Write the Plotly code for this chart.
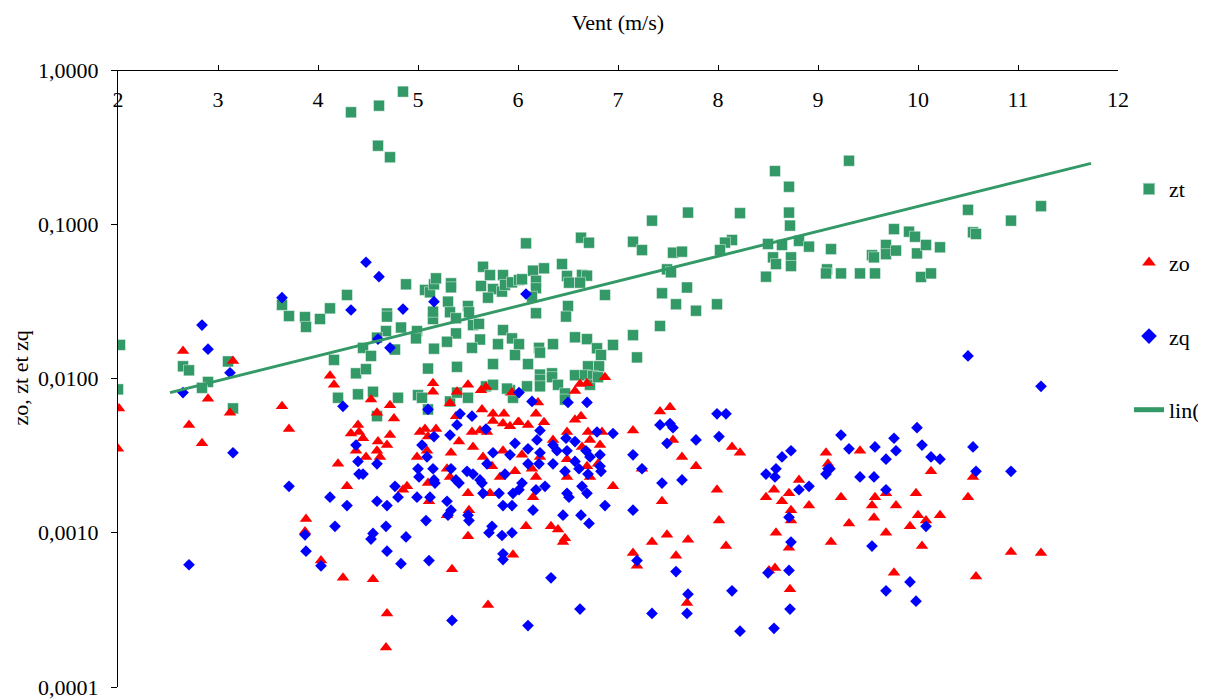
import plotly.graph_objects as go

# ---------------- data ----------------
zt_x = [2.02, 3.64, 3.71, 3.87, 3.88, 4.02, 2.65, 2.71, 3.10, 2.90, 2.00, 2.84, 3.15,
        4.33, 4.61, 4.85, 4.60, 4.72, 4.88, 4.29, 4.12, 4.69, 4.69, 4.68, 4.83, 4.59,
        4.45, 4.53, 4.77, 4.16, 4.38, 4.48, 4.99, 4.98, 5.10, 5.16, 5.15, 5.15, 5.07,
        5.12, 5.16, 5.18, 5.33, 5.33, 5.30, 5.32, 5.38, 5.38, 5.29, 5.39, 5.50, 5.51,
        5.55, 5.61, 5.62, 5.54, 5.75, 5.80, 5.85, 5.94, 5.97, 5.65, 5.72, 5.63, 5.75,
        5.70, 5.85, 5.84, 5.87, 5.94, 6.01, 6.08, 6.63, 6.71, 7.15, 7.24, 7.34, 7.70,
        7.55, 7.64, 7.49, 7.53, 7.44, 7.69, 7.58, 7.78, 7.99, 7.42, 7.15, 7.19, 6.87,
        6.44, 6.26, 6.15, 6.04, 6.18, 6.18, 6.14, 6.49, 6.51, 6.64, 6.69, 6.62, 6.50,
        6.48, 6.18, 6.57, 6.69, 6.79, 6.83, 6.95, 6.35, 6.21, 6.22, 6.01, 6.10, 6.22,
        6.34, 6.57, 6.70, 6.81, 6.67, 6.75, 6.22, 6.22, 6.34, 6.40, 6.47, 6.47, 6.72,
        6.80, 6.09, 5.95, 5.92, 4.20, 4.40, 4.55, 4.80, 4.59, 5.00, 5.04, 5.10, 5.32,
        5.50, 5.68, 5.75, 5.89, 5.39, 8.57, 8.71, 9.31, 8.22, 8.71, 8.72, 8.14, 8.07,
        8.02, 8.50, 8.64, 8.81, 8.91, 8.55, 8.58, 8.73, 8.73, 8.48, 9.13, 9.09, 9.08,
        9.23, 9.42, 9.57, 9.54, 9.56, 9.68, 9.68, 9.76, 9.78, 9.91, 9.97, 9.99, 10.03,
        10.08, 10.22, 10.13, 10.50, 10.55, 10.58, 10.93, 11.23]
zt_y = [0.0165, 0.030, 0.0254, 0.025, 0.0216, 0.0243, 0.012, 0.0113, 0.0129, 0.0095, 0.0085, 0.0087, 0.0064,
        0.532, 0.587, 0.724, 0.323, 0.272, 0.0408, 0.0348, 0.0285, 0.0264, 0.0252, 0.0203, 0.0214, 0.0184,
        0.0158, 0.0140, 0.0154, 0.0132, 0.0108, 0.0115, 0.0203, 0.0182, 0.0116, 0.0156, 0.0243, 0.0271, 0.0375,
        0.0362, 0.0408, 0.0446, 0.0414, 0.0390, 0.0315, 0.0269, 0.0246, 0.0196, 0.0173, 0.0119, 0.0295, 0.0269,
        0.0222, 0.0226, 0.0179, 0.0158, 0.0124, 0.0167, 0.0206, 0.0182, 0.0142, 0.0530, 0.0468, 0.0398, 0.0380,
        0.0334, 0.0468, 0.0366, 0.0404, 0.0420, 0.0435, 0.0752, 0.0818, 0.0759, 0.0770, 0.0680, 0.1055, 0.1190,
        0.0654, 0.0664, 0.0510, 0.0488, 0.0357, 0.0389, 0.0303, 0.0275, 0.0303, 0.0219, 0.0191, 0.0137, 0.0348,
        0.0552, 0.0518, 0.0500, 0.0440, 0.0430, 0.0385, 0.0339, 0.0462, 0.0418, 0.0469, 0.0464, 0.0418, 0.0295,
        0.0252, 0.0265, 0.0185, 0.0180, 0.0157, 0.0142, 0.0165, 0.0167, 0.0158, 0.0147, 0.0167, 0.0124, 0.0106,
        0.0108, 0.0105, 0.0120, 0.0120, 0.0105, 0.0104, 0.0098, 0.0089, 0.0102, 0.0091, 0.0080, 0.0073, 0.0091,
        0.0102, 0.0089, 0.0075, 0.0084, 0.0075, 0.0079, 0.0082, 0.0075, 0.0057, 0.0078, 0.0075, 0.0063, 0.0071,
        0.0075, 0.0089, 0.0091, 0.0086, 0.0081, 0.221, 0.175, 0.258, 0.118, 0.119, 0.098, 0.079, 0.076,
        0.068, 0.0745, 0.0734, 0.078, 0.0716, 0.061, 0.0552, 0.061, 0.0536, 0.0457, 0.069, 0.051, 0.048,
        0.048, 0.048, 0.048, 0.063, 0.061, 0.0734, 0.064, 0.093, 0.0675, 0.0895, 0.083, 0.0647, 0.0455,
        0.0734, 0.0709, 0.048, 0.124, 0.0887, 0.0865, 0.1055, 0.131]

zo_x = [2.65, 3.15, 2.01, 2.00, 2.90, 2.71, 2.84, 3.12, 3.64, 3.71, 3.88, 3.87,
        4.12, 4.16, 4.53, 4.72, 4.59, 4.76, 4.40, 4.33, 4.41, 4.45, 4.38, 4.48, 4.60, 4.69,
        4.72, 4.59, 4.62, 4.20, 4.29, 4.89, 4.85, 5.15, 5.15, 5.02, 5.07, 5.18, 5.10, 4.99,
        5.09, 5.10, 5.11, 5.32, 5.39, 5.50, 5.63, 5.68, 5.94, 5.38, 5.41, 5.33, 5.29, 5.32,
        5.54, 5.55, 5.64, 5.62, 5.69, 5.65, 5.74, 5.75, 5.75, 5.86, 5.85, 5.92, 6.00, 5.85,
        5.82, 5.97, 5.50, 5.72, 5.51, 5.29, 5.50, 5.95, 4.03, 4.25, 4.55, 5.34, 5.70, 4.69, 4.68,
        6.87, 6.69, 6.62, 6.57, 6.20, 6.18, 6.01, 6.10, 6.26, 6.57, 6.63, 6.35, 6.49, 6.70,
        6.84, 6.72, 6.82, 6.64, 6.04, 6.22, 6.49, 6.69, 6.80, 6.14, 6.18, 6.49, 6.72, 6.15,
        6.95, 6.08, 6.33, 6.40, 6.45, 6.47, 7.15, 7.42, 7.52, 7.55, 7.64, 7.78, 7.24, 7.44,
        7.99, 8.01, 7.34, 7.49, 7.70, 7.58, 7.15, 7.19, 7.69,
        8.14, 8.22, 8.08, 9.08, 9.10, 9.42, 8.81, 8.56, 8.48, 8.71, 8.64, 8.73, 8.73, 8.91,
        8.58, 8.71, 9.23, 9.31, 9.13, 9.57, 9.68, 9.54, 9.78, 9.56, 9.68, 9.92, 9.98, 10.00,
        8.57, 8.51, 8.72, 9.76, 10.04,
        10.13, 10.55, 10.50, 10.22, 10.08, 10.93, 11.23, 10.58]
zo_y = [0.0151, 0.0130, 0.0064, 0.0035, 0.0074, 0.0050, 0.0038, 0.0060, 0.0066, 0.0047, 0.00123, 0.00102,
        0.0104, 0.0091, 0.0073, 0.0067, 0.0060, 0.0055, 0.0050, 0.0044, 0.0045, 0.0041, 0.0034, 0.0031, 0.0039, 0.0037,
        0.0043, 0.0034, 0.0031, 0.0028, 0.0020, 0.0020, 0.0019, 0.0093, 0.0082, 0.0045, 0.0047, 0.0047, 0.0042, 0.0031,
        0.0034, 0.0021, 0.0016, 0.0069, 0.0082, 0.0091, 0.0084, 0.0088, 0.0081, 0.0057, 0.0039, 0.0033, 0.0026, 0.0023,
        0.0045, 0.0036, 0.0063, 0.0046, 0.0045, 0.0031, 0.0027, 0.0059, 0.0053, 0.0059, 0.0051, 0.0049, 0.0052, 0.0034,
        0.0023, 0.0025, 0.0018, 0.0018, 0.0014, 0.0013, 0.00095, 0.00072, 0.00066, 0.00051, 0.00050, 0.00058, 0.00034, 0.00030, 0.00018,
        0.0102, 0.0093, 0.0092, 0.0083, 0.0070, 0.0059, 0.0052, 0.0050, 0.0052, 0.0054, 0.0057, 0.0040, 0.0045, 0.0045,
        0.0045, 0.0040, 0.0037, 0.0036, 0.0032, 0.0031, 0.0030, 0.0027, 0.0028, 0.0026, 0.0023, 0.0023, 0.0023, 0.0017,
        0.0020, 0.0011, 0.0011, 0.00105, 0.00087, 0.00092, 0.0046, 0.0061, 0.0065, 0.0040, 0.0031, 0.0027, 0.0026, 0.0016,
        0.0019, 0.0012, 0.00087, 0.00097, 0.00090, 0.00071, 0.00074, 0.00061, 0.00035,
        0.0036, 0.0033, 0.00082, 0.0033, 0.0028, 0.0034, 0.0022, 0.0019, 0.0017, 0.0018, 0.0016, 0.0014, 0.0012, 0.0015,
        0.0010, 0.0008, 0.0017, 0.00115, 0.00087, 0.0017, 0.0018, 0.0015, 0.0015, 0.00125, 0.0010, 0.0011, 0.0018, 0.0013,
        0.00059, 0.00057, 0.00043, 0.00055, 0.00082,
        0.0025, 0.0023, 0.0017, 0.0013, 0.0012, 0.00075, 0.00074, 0.00052]

zq_x = [3.64, 2.84, 2.90, 3.12, 2.65, 3.15, 3.71, 3.87, 3.88, 2.71,
        4.48, 4.61, 4.33, 4.85, 5.16, 4.60, 4.72, 6.08, 10.50,
        4.25, 5.10, 5.42, 5.54, 5.39, 5.32, 5.16, 5.68, 5.04, 4.38, 5.09, 4.40, 4.59, 4.41,
        4.45, 5.00, 5.15, 5.01, 5.16, 5.17, 5.33, 5.49, 5.55, 5.38, 5.41, 5.62, 5.64, 5.75,
        5.69, 5.92, 5.97, 5.87, 4.77, 4.80, 4.99, 5.12, 5.29, 5.33, 5.30, 5.50, 5.51, 5.65,
        5.81, 5.95, 5.85, 5.94, 5.74, 5.71, 5.84, 5.94, 5.85, 5.85, 4.12, 4.29, 4.59, 4.69,
        5.08, 4.17, 4.68, 4.55, 4.53, 4.88, 4.69, 4.83, 5.11, 4.03, 5.34,
        6.01, 6.14, 6.50, 6.69, 6.22, 6.19, 6.10, 6.22, 6.35, 6.39, 6.48, 6.49, 6.57, 6.79,
        6.95, 6.68, 6.72, 6.82, 6.10, 6.21, 6.35, 6.57, 6.47, 6.61, 6.82, 6.83, 6.70, 6.04,
        6.01, 6.27, 6.18, 6.64, 6.49, 6.51, 6.69, 6.87, 6.15, 6.45, 6.63, 6.71, 6.33, 6.62,
        6.10, 7.15, 7.24, 7.42, 7.52, 7.55, 7.49, 7.78, 7.99, 8.01, 7.44, 7.64, 7.15, 7.19,
        7.58, 7.70, 7.69, 7.34,
        8.08, 9.23, 9.31, 9.57, 9.76, 9.78, 9.68, 9.99, 8.73, 8.64, 8.58, 8.48, 8.57, 9.10,
        9.12, 9.08, 9.42, 9.56, 9.68, 8.81, 8.91, 8.71, 8.73, 9.54, 8.50, 8.71, 8.14, 8.72,
        8.22, 8.56, 9.68, 9.92, 9.98, 10.04,
        11.23, 10.13, 10.22, 10.55, 10.58, 10.93, 10.08]
zq_y = [0.0334, 0.0222, 0.0155, 0.0109, 0.0081, 0.0033, 0.0020, 0.00097, 0.00076, 0.00062,
        0.0567, 0.0457, 0.0278, 0.0282, 0.0315, 0.0180, 0.0158, 0.0353, 0.0140,
        0.0066, 0.0063, 0.0059, 0.0057, 0.0050, 0.0043, 0.0042, 0.0047, 0.0037, 0.0037, 0.0031, 0.0029, 0.0028, 0.0024,
        0.0024, 0.0026, 0.0026, 0.0023, 0.0022, 0.0021, 0.0026, 0.0025, 0.0024, 0.0022, 0.0021, 0.0022, 0.0021, 0.0033,
        0.0028, 0.0032, 0.0038, 0.0024, 0.0020, 0.0017, 0.0017, 0.0017, 0.0016, 0.0014, 0.0013, 0.0013, 0.0012, 0.0018,
        0.0018, 0.0018, 0.0015, 0.0015, 0.0011, 0.0010, 0.00096, 0.0010, 0.00073, 0.00067, 0.0017, 0.0015, 0.0016, 0.0015,
        0.0012, 0.0011, 0.0011, 0.00099, 0.00091, 0.00094, 0.00076, 0.00063, 0.00066, 0.00061, 0.00027,
        0.0081, 0.0071, 0.0070, 0.0070, 0.0046, 0.0040, 0.0035, 0.0033, 0.0037, 0.0034, 0.0041, 0.0034, 0.0039, 0.0045,
        0.0044, 0.0034, 0.0031, 0.0032, 0.0028, 0.0028, 0.0028, 0.0029, 0.0025, 0.0026, 0.0027, 0.0025, 0.0024, 0.0021,
        0.0019, 0.0020, 0.0019, 0.0020, 0.0018, 0.0017, 0.0018, 0.0015, 0.0014, 0.0013, 0.0013, 0.00115, 0.00051, 0.00032,
        0.00025, 0.0032, 0.0026, 0.0050, 0.0051, 0.0048, 0.0038, 0.0040, 0.0059, 0.0042, 0.0021, 0.0022, 0.0014, 0.00066,
        0.00056, 0.00040, 0.00030, 0.00030,
        0.0059, 0.0043, 0.0035, 0.0036, 0.0041, 0.0034, 0.0030, 0.0048, 0.0034, 0.0031, 0.0026, 0.0024, 0.0023, 0.0026,
        0.0026, 0.0024, 0.0023, 0.0023, 0.0019, 0.0019, 0.0020, 0.00126, 0.00087, 0.00082, 0.00055, 0.00057, 0.00042, 0.00032,
        0.00023, 0.00024, 0.00042, 0.00048, 0.00036, 0.0037,
        0.0089, 0.0031, 0.0030, 0.0036, 0.0025, 0.0025, 0.0011]

# trend line for zt (exponential, straight on the log axis): end points
trend_x = [2.52, 11.73]
trend_y = [0.0081, 0.248]

y_tickvals = [1, 0.1, 0.01, 0.001, 0.0001]
y_ticktext = ["1,0000", "0,1000", "0,0100", "0,0010", "0,0001"]
x_tickvals = [2, 3, 4, 5, 6, 7, 8, 9, 10, 11, 12]

# ---------------- figure ----------------
FONT = "Liberation Serif, Times New Roman, Times, DejaVu Serif, serif"
GREEN = "#339966"

fig = go.Figure()
fig.add_trace(go.Scatter(x=zt_x, y=zt_y, mode="markers", name="zt", legendgroup="a",
                         marker=dict(symbol="square", size=11, color=GREEN,
                                     line=dict(width=1, color="rgba(255,255,255,0.45)"))))
fig.add_trace(go.Scatter(x=zo_x, y=zo_y, mode="markers", name="zo", legendgroup="b",
                         marker=dict(symbol="triangle-up", size=11, color="#FF0000",
                                     line=dict(width=0))))
fig.add_trace(go.Scatter(x=zq_x, y=zq_y, mode="markers", name="zq", legendgroup="c",
                         marker=dict(symbol="diamond", size=9, color="#0000FF",
                                     line=dict(width=0))))
fig.add_trace(go.Scatter(x=trend_x, y=trend_y, mode="lines", name="lin(zt)", legendgroup="d",
                         line=dict(color=GREEN, width=3)))

fig.update_layout(
    width=1206, height=700,
    margin=dict(l=110, r=96, t=62, b=21, autoexpand=False),
    paper_bgcolor="white", plot_bgcolor="white",
    font=dict(family=FONT, size=22, color="black"),
    showlegend=True,
    legend=dict(x=1.011, xanchor="left", y=0.841, yanchor="top",
                font=dict(family=FONT, size=22, color="black"),
                tracegroupgap=42, itemsizing="constant", bgcolor="rgba(0,0,0,0)"),
    title=dict(text="Vent (m/s)", x=0.5, xref="paper", xanchor="center",
               y=1 - 14 / 700, yref="container", yanchor="middle",
               font=dict(family=FONT, size=22, color="black")),
    xaxis=dict(range=[2, 12], side="bottom", anchor="free", position=1,
               tickvals=x_tickvals,
               ticks="inside", ticklen=5, tickcolor="black",
               showline=True, linecolor="black", linewidth=1,
               showgrid=False, zeroline=False, ticklabelstandoff=10,
               tickfont=dict(family=FONT, size=22, color="black")),
    yaxis=dict(type="log", range=[-4, 0], tickvals=y_tickvals, ticktext=y_ticktext,
               ticks="outside", ticklen=6, tickcolor="black",
               showline=True, linecolor="black", linewidth=1,
               showgrid=False, zeroline=False, ticklabelstandoff=8,
               tickfont=dict(family=FONT, size=22, color="black")),
    annotations=[dict(text="zo, zt et zq", textangle=-90, x=-0.098, xref="paper",
                      y=0.5, yref="paper", xanchor="center", yanchor="middle",
                      showarrow=False, font=dict(family=FONT, size=22, color="black"))],
)

fig.write_html("out.html")
